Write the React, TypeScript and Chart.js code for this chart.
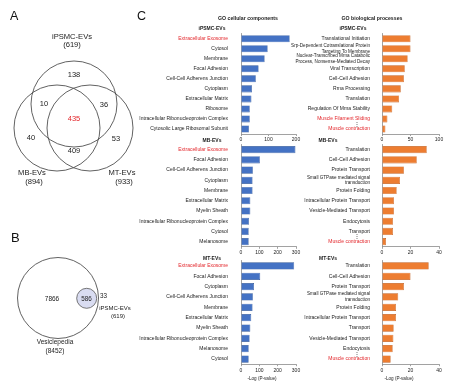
import React, { useEffect, useRef } from "react";
import { Chart, registerables } from "chart.js";
Chart.register(...registerables);

const FONT = "'Liberation Sans', Arial, Helvetica, sans-serif";
const RED = "#e3262b";
const TXT = "#222222";
const AXIS = "#8a8a8a";
const BLUE = "#4472c4";
const BLUE_B = "#2f5597";
const ORANGE = "#ed7d31";
const ORANGE_B = "#c05a17";

// ---- GO cellular components ----
const ccIpsmcLabels = ["Extracellular Exosome", "Cytosol", "Membrane", "Focal Adhesion", "Cell-Cell Adherens Junction", "Cytoplasm", "Extracellular Matrix", "Ribosome", "Intracellular Ribonucleoprotein Complex", "Cytosolic Large Ribosomal Subunit"];
const ccIpsmcValues = [177, 97, 86, 64, 54, 40, 38, 32, 32, 29];
const ccMbLabels = ["Extracellular Exosome", "Focal Adhesion", "Cell-Cell Adherens Junction", "Cytoplasm", "Membrane", "Extracellular Matrix", "Myelin Sheath", "Intracellular Ribonucleoprotein Complex", "Cytosol", "Melanosome"];
const ccMbValues = [297, 103, 65, 63, 63, 51, 51, 44, 42, 42];
const ccMtLabels = ["Extracellular Exosome", "Focal Adhesion", "Cytoplasm", "Cell-Cell Adherens Junction", "Membrane", "Extracellular Matrix", "Myelin Sheath", "Intracellular Ribonucleoprotein Complex", "Melanosome", "Cytosol"];
const ccMtValues = [290, 105, 71, 65, 63, 56, 51, 47, 42, 42];

// ---- GO biological processes ----
const bpIpsmcLabels: (string | string[])[] = ["Translational Initiation", ["Srp-Dependent Cotranslational Protein", "Targeting To Membrane"], ["Nuclear-Transcribed Mrna Catabolic", "Process, Nonsense-Mediated Decay"], "Viral Transcription", "Cell-Cell Adhesion", "Rrna Processing", "Translation", "Regulation Of Mrna Stability", "Muscle Filament Sliding", "Muscle contraction"];
const bpIpsmcValues = [50, 50, 45, 40, 38.5, 33, 30, 18, 9.5, 6];
const bpMbLabels: (string | string[])[] = ["Translation", "Cell-Cell Adhesion", "Protein Transport", ["Small GTPase mediated signal", "transduction"], "Protein Folding", "Intracellular Protein Transport", "Vesicle-Mediated Transport", "Endocytosis", "Transport", "Muscle contraction"];
const bpMbValues = [31.4, 24.4, 15.4, 12.6, 10.3, 8.4, 8.4, 7.7, 7.7, 2.8];
const bpMtLabels: (string | string[])[] = ["Translation", "Cell-Cell Adhesion", "Protein Transport", ["Small GTPase mediated signal", "transduction"], "Protein Folding", "Intracellular Protein Transport", "Transport", "Vesicle-Mediated Transport", "Endocytosis", "Muscle contraction"];
const bpMtValues = [32.8, 20, 15.4, 11.4, 9.8, 9.8, 8.2, 8, 7.5, 6.1];

const redLabels = ["Extracellular Exosome", "Muscle Filament Sliding", "Muscle contraction"];

// axis maxima / steps
const ccMax = [200, 300, 300];
const ccStep = [100, 100, 100];
const bpMax = [100, 40, 40];
const bpStep = [50, 20, 20];

// Venn numbers
const vennA = { top: "138", tl: "10", tr: "36", center: "435", left: "40", right: "53", bottom: "409" };
const vennB = { only: "7866", both: "586", rest: "33" };

// layout (pixel positions of row bands)
const bands = [
  [33.7, 134],
  [144.5, 246.8],
  [260.8, 364.2],
];

type Spec = {
  labels: (string | string[])[];
  values: number[];
  max: number;
  step: number;
  color: string;
  border: string;
  left: number;
  width: number;
  yAxisWidth: number;
  labelPad: number;
  band: number[];
  ellipsis: boolean;
};

const ellipsisPlugin = {
  id: "ellipsisMark",
  afterDraw(chart: any) {
    const ys = chart.scales.y;
    const labels = chart.data.labels;
    const n = labels.length;
    const yMid = (ys.getPixelForValue(n - 2) + ys.getPixelForValue(n - 1)) / 2;
    const ctx = chart.ctx;
    ctx.save();
    ctx.font = `5px ${FONT}`;
    const w = ctx.measureText(String(labels[n - 1])).width;
    const pad = chart.options.scales.y.ticks.padding;
    const xr = chart.chartArea.left - pad;
    ctx.font = `6px ${FONT}`;
    ctx.fillStyle = "#333";
    ctx.textAlign = "center";
    ctx.textBaseline = "middle";
    ctx.fillText("\u22EE", xr - w / 2, yMid);
    ctx.restore();
  },
};

function BarPanel({ spec }: { spec: Spec }) {
  const ref = useRef<HTMLCanvasElement>(null);
  const top = Math.floor(spec.band[0]) - 10;
  const padTop = spec.band[0] - top;
  const xAxisH = 11;
  const height = Math.ceil(spec.band[1] - top + xAxisH + 2);
  const padBottom = height - (spec.band[1] - top) - xAxisH;
  useEffect(() => {
    const chart = new Chart(ref.current as HTMLCanvasElement, {
      type: "bar",
      data: {
        labels: spec.labels as any,
        datasets: [
          {
            data: spec.values,
            backgroundColor: spec.color,
            borderColor: spec.border,
            borderWidth: 0.6,
            barPercentage: 0.7,
            categoryPercentage: 1,
          },
        ],
      },
      options: {
        indexAxis: "y",
        responsive: false,
        animation: false,
        devicePixelRatio: 1,
        layout: { padding: { left: 0, top: padTop, right: 8, bottom: padBottom } },
        plugins: { legend: { display: false }, tooltip: { enabled: false } },
        scales: {
          x: {
            min: 0,
            max: spec.max,
            ticks: { stepSize: spec.step, font: { family: FONT, size: 5 }, color: TXT, padding: 1, maxRotation: 0, autoSkip: false },
            grid: { display: true, drawOnChartArea: false, tickLength: 2, color: AXIS, lineWidth: 0.8 },
            border: { display: true, color: AXIS, width: 0.8 },
            afterFit: (s: any) => {
              s.height = xAxisH;
            },
          },
          y: {
            ticks: {
              font: (c: any) =>
                Array.isArray(spec.labels[c.index])
                  ? { family: FONT, size: 4.6, lineHeight: 1.25 }
                  : { family: FONT, size: 5, lineHeight: 1.15 },
              padding: spec.labelPad,
              autoSkip: false,
              color: (c: any) => (redLabels.includes(String(spec.labels[c.index])) ? RED : TXT),
            },
            grid: { display: false },
            border: { display: true, color: AXIS, width: 0.8 },
            afterFit: (s: any) => {
              s.width = spec.yAxisWidth;
            },
          },
        },
      } as any,
      plugins: spec.ellipsis ? [ellipsisPlugin] : [],
    });
    return () => chart.destroy();
  }, []);
  return (
    <canvas
      ref={ref}
      width={spec.width}
      height={height}
      style={{ position: "absolute", left: spec.left, top, width: spec.width, height }}
    />
  );
}

const ccLabelSets = [ccIpsmcLabels, ccMbLabels, ccMtLabels];
const ccValueSets = [ccIpsmcValues, ccMbValues, ccMtValues];
const bpLabelSets = [bpIpsmcLabels, bpMbLabels, bpMtLabels];
const bpValueSets = [bpIpsmcValues, bpMbValues, bpMtValues];

const specs: Spec[] = [];
for (let i = 0; i < 3; i++) {
  specs.push({
    labels: ccLabelSets[i],
    values: ccValueSets[i],
    max: ccMax[i],
    step: ccStep[i],
    color: BLUE,
    border: BLUE_B,
    left: 138,
    width: 166,
    yAxisWidth: 103,
    labelPad: 5,
    band: bands[i],
    ellipsis: false,
  });
  specs.push({
    labels: bpLabelSets[i],
    values: bpValueSets[i],
    max: bpMax[i],
    step: bpStep[i],
    color: ORANGE,
    border: ORANGE_B,
    left: 286,
    width: 161,
    yAxisWidth: 96,
    labelPad: 4,
    band: bands[i],
    ellipsis: true,
  });
}

function T(props: any) {
  const { x, y, s, size = 5, bold = false, color = TXT, anchor = "middle" } = props;
  return (
    <text x={x} y={y} fontSize={size} fontWeight={bold ? "bold" : "normal"} fill={color} textAnchor={anchor} dominantBaseline="central" fontFamily={FONT}>
      {s}
    </text>
  );
}

function Overlay() {
  const stroke = "#3a3a3a";
  return (
    <svg width={474} height={385} style={{ position: "absolute", left: 0, top: 0, pointerEvents: "none" }}>
      {/* panel letters */}
      <text x={10} y={20} fontSize={12.5} fontFamily={FONT} fill="#111">A</text>
      <text x={137} y={20} fontSize={12.5} fontFamily={FONT} fill="#111">C</text>
      <text x={11} y={242} fontSize={13} fontFamily={FONT} fill="#111">B</text>

      {/* Venn A */}
      <circle cx={74} cy={104} r={43} fill="none" stroke={stroke} strokeWidth={0.8} />
      <circle cx={57} cy={128} r={43} fill="none" stroke={stroke} strokeWidth={0.8} />
      <circle cx={90} cy={128} r={43} fill="none" stroke={stroke} strokeWidth={0.8} />
      <T x={72} y={36} s="iPSMC-EVs" size={7.6} />
      <T x={72} y={44.5} s="(619)" size={7.6} />
      <T x={74} y={74} s={vennA.top} size={7.5} />
      <T x={44} y={103} s={vennA.tl} size={7.5} />
      <T x={104} y={104} s={vennA.tr} size={7.5} />
      <T x={74} y={118} s={vennA.center} size={7.5} color={RED} />
      <T x={31} y={137} s={vennA.left} size={7.5} />
      <T x={116} y={138} s={vennA.right} size={7.5} />
      <T x={74} y={150} s={vennA.bottom} size={7.5} />
      <T x={32} y={172} s="MB-EVs" size={7.6} />
      <T x={34} y={181} s="(894)" size={7.6} />
      <T x={122} y={172} s="MT-EVs" size={7.6} />
      <T x={124} y={181.5} s="(933)" size={7.6} />

      {/* Venn B */}
      <circle cx={58} cy={298} r={40.5} fill="none" stroke={stroke} strokeWidth={0.8} />
      <circle cx={86.7} cy={298.3} r={10} fill="#d9dcf1" stroke="#555" strokeWidth={0.8} />
      <T x={52} y={298} s={vennB.only} size={6.5} />
      <T x={86.5} y={298.3} s={vennB.both} size={6.3} />
      <T x={103.5} y={295} s={vennB.rest} size={6.3} />
      <T x={115} y={307.5} s="iPSMC-EVs" size={6} />
      <T x={118} y={316} s="(619)" size={6} />
      <T x={55} y={341.5} s="Vesiclepedia" size={6.5} />
      <T x={55} y={350} s="(8452)" size={6.5} />

      {/* headers */}
      <T x={248} y={17.7} s="GO cellular components" size={5.2} bold />
      <T x={372} y={17.7} s="GO biological processes" size={5.2} bold />
      <T x={212} y={28.3} s="iPSMC-EVs" size={5} bold />
      <T x={353} y={28.3} s="iPSMC-EVs" size={5} bold />
      <T x={212} y={140.3} s="MB-EVs" size={5} bold />
      <T x={328} y={140.3} s="MB-EVs" size={5} bold />
      <T x={212} y={257.5} s="MT-EVs" size={5} bold />
      <T x={328} y={258} s="MT-EVs" size={5} bold />
      <T x={262} y={378} s="-Log (P-value)" size={4.6} />
      <T x={399} y={378} s="-Log (P-value)" size={4.6} />
    </svg>
  );
}

export default function App() {
  return (
    <div style={{ position: "absolute", left: 0, top: 0, width: 474, height: 385, background: "#fff", overflow: "hidden" }}>
      {specs.map((s, i) => (
        <BarPanel key={i} spec={s} />
      ))}
      <Overlay />
    </div>
  );
}
